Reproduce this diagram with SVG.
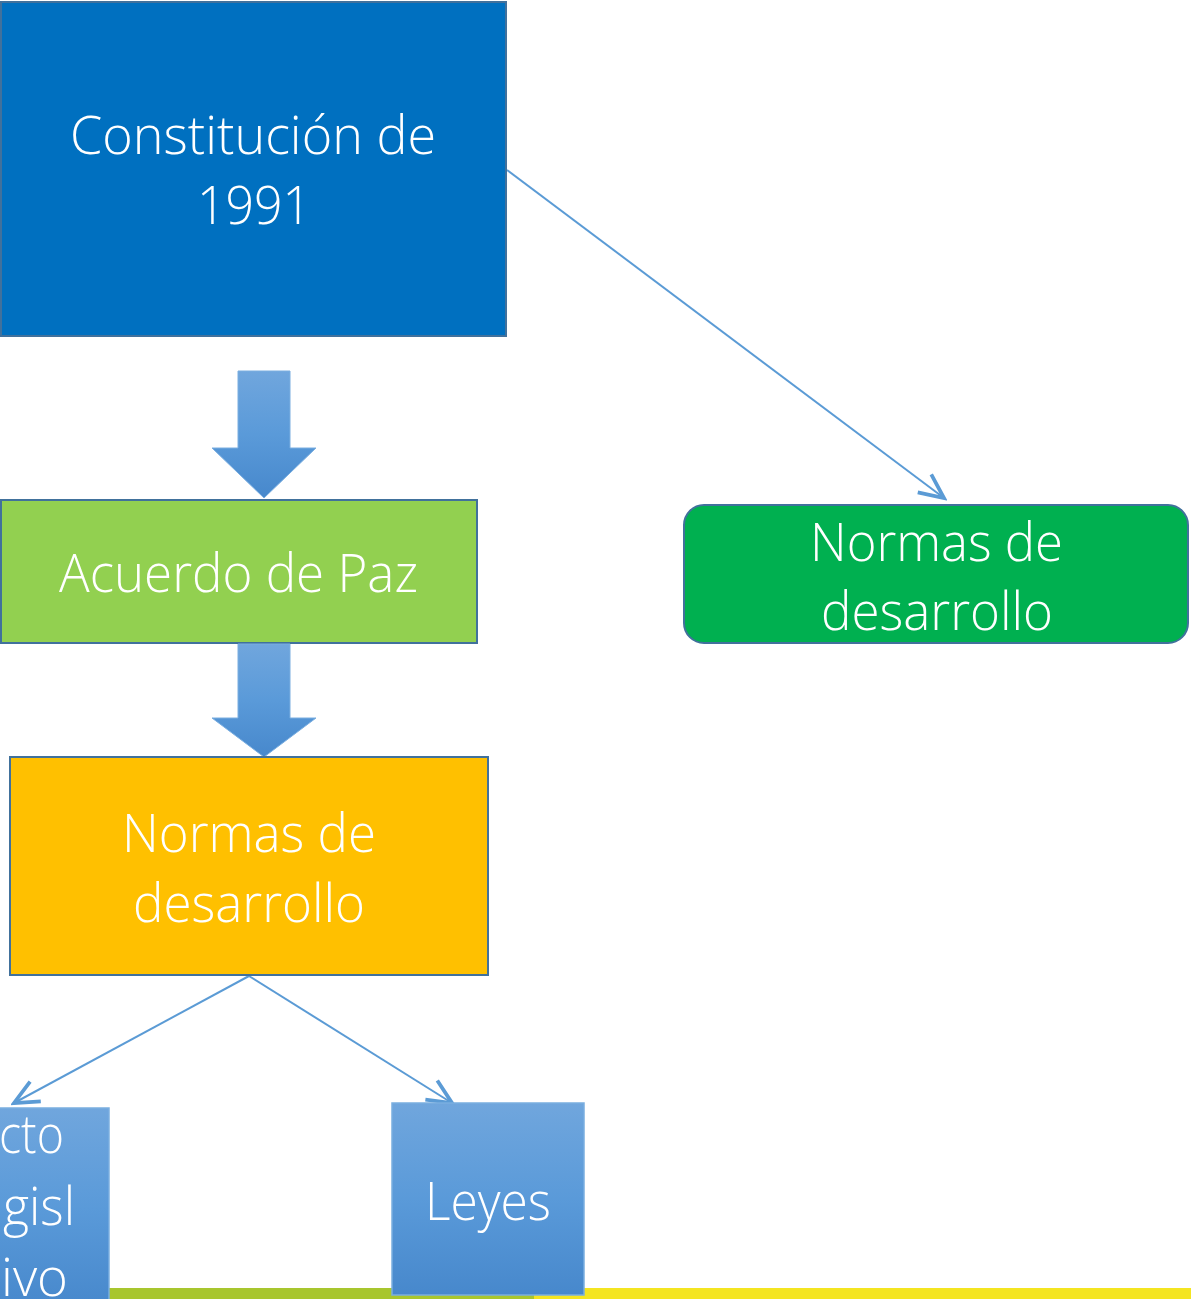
<svg xmlns="http://www.w3.org/2000/svg" width="1191" height="1299" viewBox="0 0 1191 1299">
<defs>
<linearGradient id="blueGrad" x1="0" y1="0" x2="0" y2="1">
<stop offset="0" stop-color="#70A6DD"/>
<stop offset="0.5" stop-color="#5A9AD9"/>
<stop offset="1" stop-color="#4788CC"/>
</linearGradient>
<marker id="openArrow" markerUnits="userSpaceOnUse" markerWidth="30" markerHeight="30" refX="14" refY="7" orient="auto" viewBox="0 0 16 14">
<path d="M1,1 L14,7 L1,13" fill="none" stroke="#5B9BD5" stroke-width="2"/>
</marker>
<style>
.lbl{font-family:"Open Sans","Liberation Sans",sans-serif;font-weight:300;font-size:53px;fill:#FFFFFF;}
.box{stroke:#41719C;stroke-width:2;}
.conn{fill:none;stroke:#5B9BD5;stroke-width:2;marker-end:url(#openArrow);}
.barrow{fill:url(#blueGrad);stroke:#7AAEE0;stroke-width:1;}
.bluebox{fill:url(#blueGrad);stroke:#7AAEE0;stroke-width:1.5;}
</style>
</defs>
<rect x="0" y="0" width="1191" height="1299" fill="#FFFFFF"/>
<g id="footer">
<rect x="108" y="1288" width="427" height="11" fill="#A8C62E"/>
<rect x="534" y="1288" width="657" height="11" fill="#F4E521"/>
</g>
<g id="connectors">
<line class="conn" x1="507" y1="170" x2="944" y2="498"/>
<line class="conn" x1="249" y1="976" x2="14" y2="1103"/>
<line class="conn" x1="249" y1="976" x2="452" y2="1103"/>
</g>
<g id="node-constitucion">
<rect class="box" x="1" y="2" width="505" height="334" fill="#0070C0"/>
<text class="lbl" x="253" y="154" text-anchor="middle" textLength="366" lengthAdjust="spacingAndGlyphs">Constitución de</text>
<text class="lbl" x="254" y="224" text-anchor="middle" textLength="114" lengthAdjust="spacingAndGlyphs">1991</text>
</g>
<g id="arrow-1">
<path class="barrow" d="M238,371 L290,371 L290,448 L316,448 L264,498 L212,448 L238,448 Z"/>
</g>
<g id="node-acuerdo">
<rect class="box" x="1" y="500" width="476" height="143" fill="#92D050"/>
<text class="lbl" x="238.5" y="592" text-anchor="middle" textLength="359" lengthAdjust="spacingAndGlyphs">Acuerdo de Paz</text>
</g>
<g id="arrow-2">
<path class="barrow" d="M238,644 L290,644 L290,718 L316,718 L264,757 L212,718 L238,718 Z"/>
</g>
<g id="node-normas-yellow">
<rect class="box" x="10" y="757" width="478" height="218" fill="#FFC000"/>
<text class="lbl" x="249" y="852" text-anchor="middle" textLength="254" lengthAdjust="spacingAndGlyphs">Normas de</text>
<text class="lbl" x="249" y="922" text-anchor="middle" textLength="232" lengthAdjust="spacingAndGlyphs">desarrollo</text>
</g>
<g id="node-normas-green">
<rect class="box" x="684" y="505" width="504" height="138" rx="20" ry="20" fill="#00B050"/>
<text class="lbl" x="936.5" y="561" text-anchor="middle" textLength="253" lengthAdjust="spacingAndGlyphs">Normas de</text>
<text class="lbl" x="937" y="630" text-anchor="middle" textLength="232" lengthAdjust="spacingAndGlyphs">desarrollo</text>
</g>
<g id="node-decreto">
<rect class="bluebox" x="-60" y="1108" width="169" height="200"/>
<text class="lbl" x="-1" y="1153" textLength="65" lengthAdjust="spacingAndGlyphs">cto</text>
<text class="lbl" x="3" y="1225" textLength="72" lengthAdjust="spacingAndGlyphs">gisl</text>
<text class="lbl" x="1" y="1296" textLength="67" lengthAdjust="spacingAndGlyphs">ivo</text>
</g>
<g id="node-leyes">
<rect class="bluebox" x="392" y="1103" width="192" height="192"/>
<text class="lbl" x="488" y="1220" text-anchor="middle" textLength="126" lengthAdjust="spacingAndGlyphs">Leyes</text>
</g>
</svg>
